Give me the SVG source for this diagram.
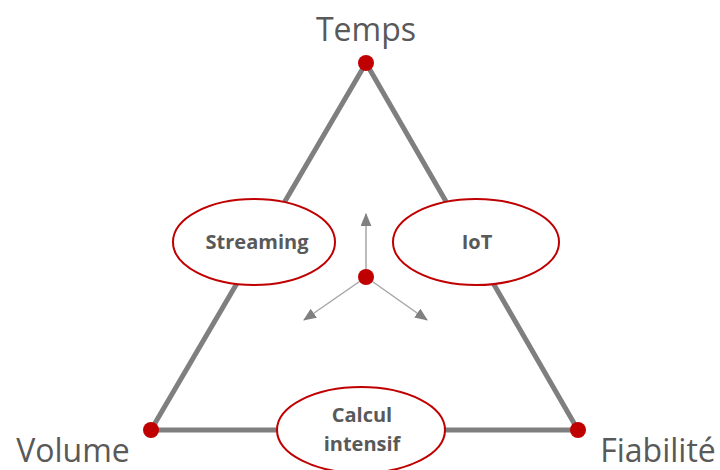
<svg xmlns="http://www.w3.org/2000/svg" width="720" height="470" viewBox="0 0 720 470">
<style>
.edge{stroke:#7f7f7f;stroke-width:5;fill:none;stroke-linecap:round}
.arr{stroke:#a6a6a6;stroke-width:1.5;fill:none}
.dot{fill:#c00000}
.ell{fill:#ffffff;stroke:#c00000;stroke-width:2}
.big{font-family:"Open Sans","Noto Sans",sans-serif;font-size:32px;fill:#595959}
.lab{font-family:"Open Sans","Noto Sans",sans-serif;font-size:20px;font-weight:bold;fill:#595959;text-anchor:middle}
</style>
<defs>
<marker id="ah2" viewBox="0 0 12 10" refX="11" refY="5" markerWidth="13" markerHeight="11" orient="auto" markerUnits="userSpaceOnUse">
<path d="M0,0 L12,5 L0,10 z" fill="#808080"/>
</marker>
</defs>
<g id="connectors">
<path class="edge" d="M366,63 L151,430 L578,430 Z"/>
<line class="arr" x1="366" y1="277" x2="366" y2="214" marker-end="url(#ah2)"/>
<line class="arr" x1="366" y1="277" x2="304" y2="320" marker-end="url(#ah2)"/>
<line class="arr" x1="366" y1="277" x2="427" y2="320" marker-end="url(#ah2)"/>
</g>
<g id="temps">
<circle class="dot" cx="366" cy="63" r="8"/>
<text class="big" x="366" y="41" text-anchor="middle">Temps</text>
</g>
<g id="volume">
<circle class="dot" cx="151" cy="430" r="8"/>
<text class="big" x="73" y="462" text-anchor="middle">Volume</text>
</g>
<g id="fiabilite">
<circle class="dot" cx="578" cy="430" r="8"/>
<text class="big" x="658" y="462" text-anchor="middle">Fiabilité</text>
</g>
<g id="centre">
<circle class="dot" cx="366" cy="277" r="8"/>
</g>
<g id="streaming">
<ellipse class="ell" cx="254" cy="242" rx="81" ry="43"/>
<text class="lab" x="257" y="249">Streaming</text>
</g>
<g id="iot">
<ellipse class="ell" cx="476" cy="242" rx="83" ry="43"/>
<text class="lab" x="477" y="249">IoT</text>
</g>
<g id="calcul">
<ellipse class="ell" cx="361" cy="430" rx="84" ry="43"/>
<text class="lab" x="362" y="422">Calcul</text>
<text class="lab" x="362" y="451">intensif</text>
</g>
</svg>
